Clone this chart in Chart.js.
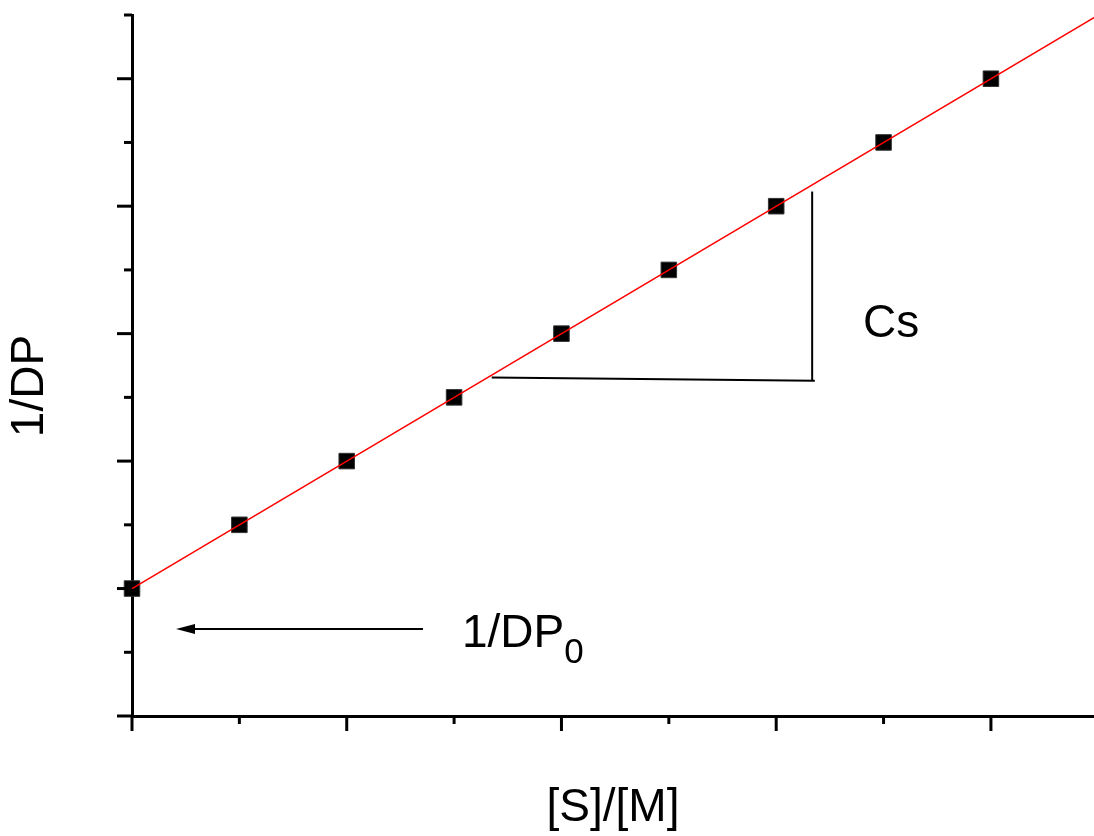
<!DOCTYPE html>
<html>
<head>
<meta charset="utf-8">
<script src="https://cdn.jsdelivr.net/npm/chart.js@4.4.0/dist/chart.umd.min.js"></script>
<style>
  html, body { margin: 0; padding: 0; background: #fff; }
</style>
</head>
<body>
<canvas id="chart" width="1094" height="836"></canvas>
<script>
// measured points
const ratioX = [0, 1, 2, 3, 4, 5, 6, 7, 8];
const invDP = [1, 1.5, 2, 2.5, 3, 3.5, 4, 4.5, 5];
// fitted line end points
const fitX = [0, 9];
const fitY = [1, 5.5];
// ticks (no labels in the original)
const xMajorTicks = [0, 2, 4, 6, 8];
const xMinorTicks = [1, 3, 5, 7];
const yMajorTicks = [0, 1, 2, 3, 4, 5];
const yMinorTicks = [0.5, 1.5, 2.5, 3.5, 4.5, 5.5];

const FONT = '"Liberation Sans", Arial, Helvetica, sans-serif';

const toXY = (xs, ys) => xs.map((x, i) => ({ x: x, y: ys[i] }));

const decorations = {
  id: "decorations",
  afterDraw(chart) {
    const ctx = chart.ctx;
    const xs = chart.scales.x, ys = chart.scales.y;
    const px = (v) => xs.getPixelForValue(v);
    const py = (v) => ys.getPixelForValue(v);
    const area = chart.chartArea;

    ctx.save();
    ctx.strokeStyle = "#000";
    ctx.lineWidth = 3;
    ctx.lineCap = "butt";
    // x ticks, pointing down
    const bottom = area.bottom;
    xMajorTicks.forEach((t) => {
      ctx.beginPath(); ctx.moveTo(px(t), bottom); ctx.lineTo(px(t), bottom + 15); ctx.stroke();
    });
    xMinorTicks.forEach((t) => {
      ctx.beginPath(); ctx.moveTo(px(t), bottom); ctx.lineTo(px(t), bottom + 8); ctx.stroke();
    });
    // y ticks, pointing left
    const left = area.left;
    yMajorTicks.forEach((t) => {
      ctx.beginPath(); ctx.moveTo(left, py(t)); ctx.lineTo(left - 15, py(t)); ctx.stroke();
    });
    yMinorTicks.forEach((t) => {
      ctx.beginPath(); ctx.moveTo(left, py(t)); ctx.lineTo(left - 8, py(t)); ctx.stroke();
    });

    // slope triangle
    ctx.lineWidth = 2;
    ctx.beginPath();
    ctx.moveTo(px(3.35), py(2.655));
    ctx.lineTo(px(6.36), py(2.63));
    ctx.stroke();
    ctx.beginPath();
    ctx.moveTo(px(6.335), py(2.63));
    ctx.lineTo(px(6.335), py(4.115));
    ctx.stroke();

    // intercept arrow
    const ay = py(0.683);
    ctx.lineWidth = 2;
    ctx.beginPath();
    ctx.moveTo(px(2.71), ay);
    ctx.lineTo(px(0.55), ay);
    ctx.stroke();
    ctx.fillStyle = "#000";
    ctx.beginPath();
    ctx.moveTo(px(0.41), ay);
    ctx.lineTo(px(0.41) + 19, ay - 5);
    ctx.lineTo(px(0.41) + 19, ay + 5);
    ctx.closePath();
    ctx.fill();

    // labels
    ctx.textBaseline = "alphabetic";
    ctx.textAlign = "left";
    ctx.font = "46px " + FONT;
    ctx.fillText("Cs", px(6.808), py(2.975));
    const lx = px(3.073), lb = py(0.5416);
    ctx.fillText("1/DP", lx, lb);
    const w = ctx.measureText("1/DP").width;
    ctx.font = "35px " + FONT;
    ctx.fillText("0", lx + w, lb + 16);

    // y axis title
    ctx.font = "46px " + FONT;
    ctx.textAlign = "center";
    ctx.textBaseline = "middle";
    ctx.translate(30, 386);
    ctx.rotate(-Math.PI / 2);
    ctx.fillText("1/DP", 0, 0);
    ctx.restore();
  }
};

new Chart(document.getElementById("chart"), {
  type: "scatter",
  data: {
    datasets: [
      {
        type: "line",
        label: "fit",
        data: toXY(fitX, fitY),
        borderColor: "#ff0000",
        borderWidth: 1.5,
        pointRadius: 0,
        fill: false,
        order: 0
      },
      {
        label: "1/DP",
        data: toXY(ratioX, invDP),
        pointStyle: "rect",
        pointRadius: 11,
        pointBackgroundColor: "#000",
        pointBorderColor: "#333",
        pointBorderWidth: 1,
        showLine: false,
        clip: false,
        order: 1
      }
    ]
  },
  options: {
    responsive: false,
    animation: false,
    devicePixelRatio: 1,
    layout: { autoPadding: false, padding: { left: 132, top: 15, right: 0, bottom: 0 } },
    plugins: { legend: { display: false }, tooltip: { enabled: false } },
    scales: {
      x: {
        type: "linear",
        min: 0,
        max: 8.96,
        ticks: { display: false },
        grid: { display: false, drawTicks: false },
        border: { display: true, color: "#000", width: 3 },
        title: {
          display: true,
          text: "[S]/[M]",
          color: "#000",
          font: { family: FONT, size: 46 },
          padding: { top: 64.8, bottom: 0 }
        }
      },
      y: {
        type: "linear",
        min: 0,
        max: 5.5,
        ticks: { display: false },
        grid: { display: false, drawTicks: false },
        border: { display: true, color: "#000", width: 3 },
        title: { display: false }
      }
    }
  },
  plugins: [decorations]
});
</script>
</body>
</html>
